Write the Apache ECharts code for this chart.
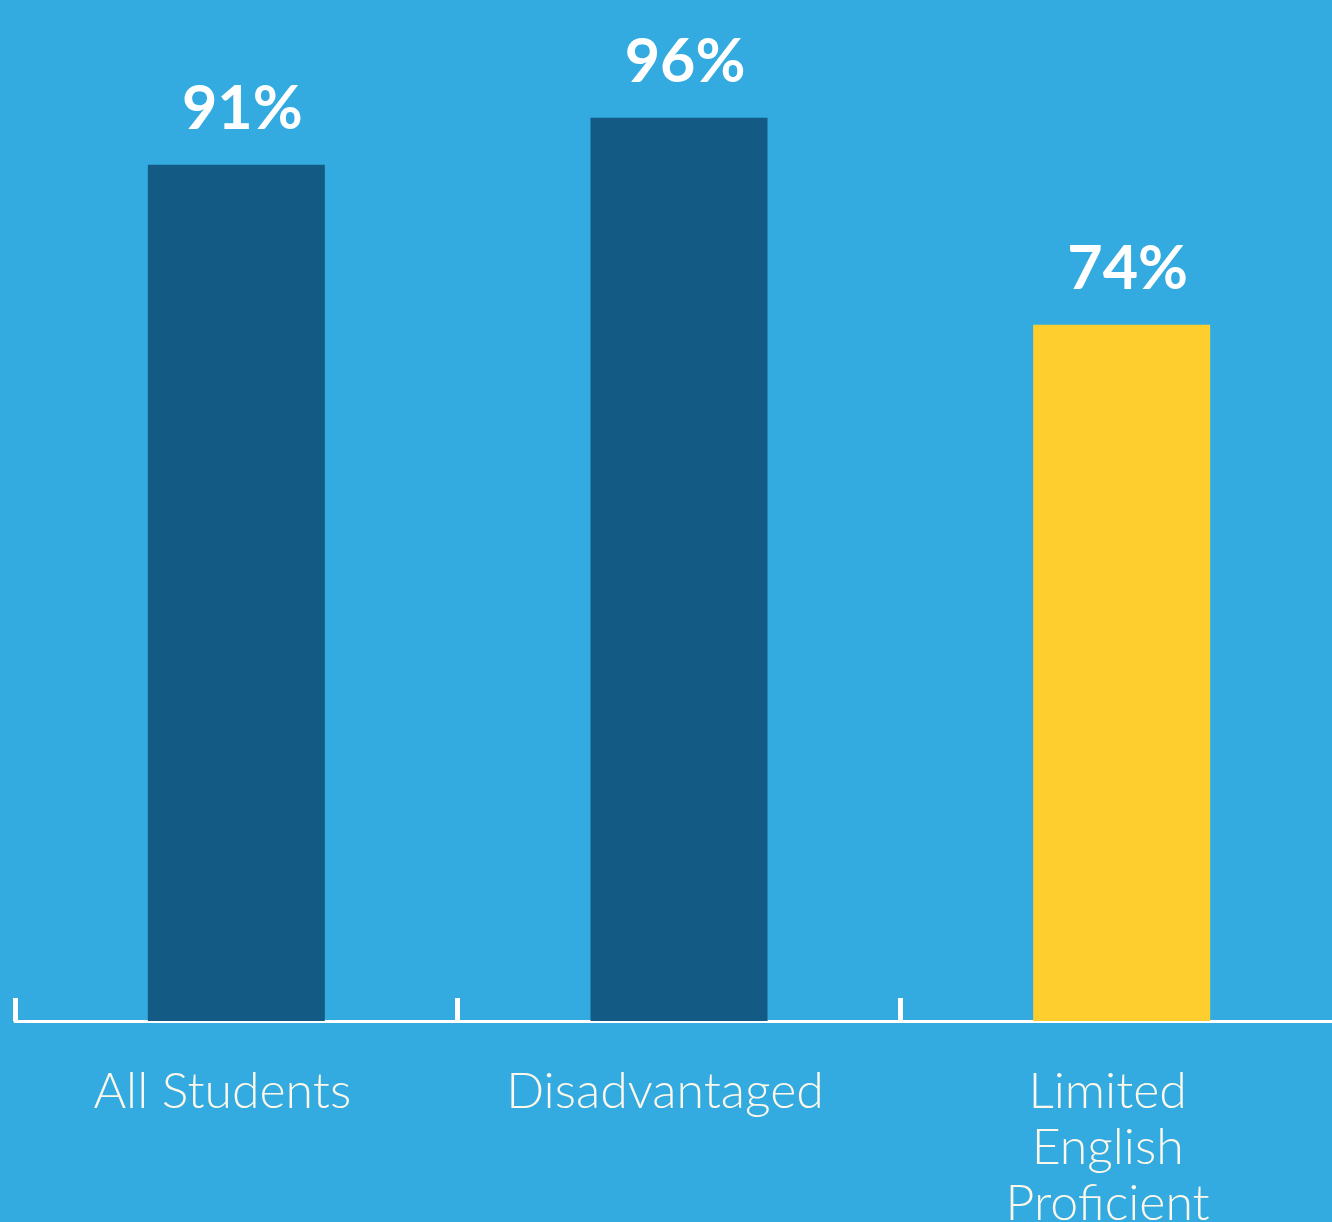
<!DOCTYPE html>
<html>
<head>
<meta charset="utf-8">
<script src="https://cdn.jsdelivr.net/npm/echarts@6/dist/echarts.min.js"></script>
<style>
  html, body { margin: 0; padding: 0; background: #33abe0; }
  #chart { width: 1332px; height: 1222px; }
</style>
</head>
<body>
<div id="chart"></div>
<script>
var categories = ["All Students", "Disadvantaged", "Limited\nEnglish\nProficient"];
var values = [91, 96, 74];
var barColors = ["#135b84", "#135b84", "#fecd2e"];

var chart = echarts.init(document.getElementById("chart"));
chart.setOption({
  backgroundColor: "#33abe0",
  animation: false,
  grid: {
    left: 15,
    width: 1328,
    top: 80,
    bottom: 201,
    containLabel: false,
    outerBoundsMode: "none"
  },
  xAxis: {
    type: "category",
    data: categories,
    axisLine: { lineStyle: { color: "#ffffff", width: 3 } },
    axisTick: {
      show: true,
      inside: true,
      length: 23,
      interval: 0,
      lineStyle: { color: "#ffffff", width: 5 }
    },
    axisLabel: {
      interval: 0,
      color: "#fdf8ea",
      fontFamily: "Lato",
      fontWeight: 300,
      fontSize: 50,
      lineHeight: 56,
      margin: 43,
      padding: [0, 28, 0, 0]
    }
  },
  yAxis: {
    type: "value",
    min: 0,
    max: 100,
    show: false,
    splitLine: { show: false }
  },
  series: [
    {
      type: "bar",
      barWidth: 177,
      data: values.map(function (v, i) {
        return { value: v, itemStyle: { color: barColors[i] } };
      }),
      label: {
        show: true,
        position: "top",
        distance: 25,
        offset: [6, 0],
        color: "#ffffff",
        fontFamily: "Lato",
        fontWeight: "bold",
        fontSize: 61,
        formatter: function (p) {
          return p.value + "%";
        }
      }
    }
  ]
});
</script>
</body>
</html>
